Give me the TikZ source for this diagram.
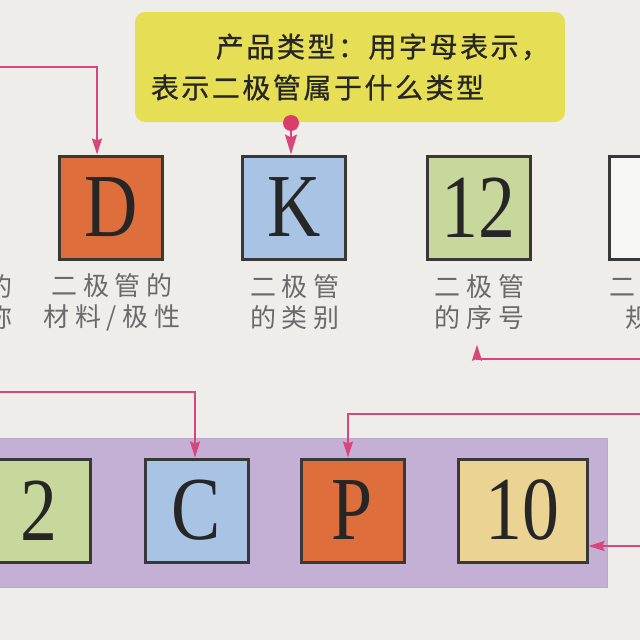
\documentclass[tikz,border=0pt]{standalone}
\usepackage{fontspec}
\usepackage{graphicx}
\setmainfont{Liberation Serif}
\newfontfamily\cjk[LetterSpace=22]{Noto Sans CJK SC}
\newfontfamily\cjkhead[LetterSpace=9,FakeBold=0.8]{Noto Sans CJK SC}
\usetikzlibrary{arrows.meta}

\definecolor{bg}{HTML}{EEEDEA}
\definecolor{callout}{HTML}{E6DE55}
\definecolor{orangebox}{HTML}{DF6E3D}
\definecolor{bluebox}{HTML}{A8C3E3}
\definecolor{greenbox}{HTML}{C8D89C}
\definecolor{tanbox}{HTML}{EBD394}
\definecolor{whitebox}{HTML}{F7F7F5}
\definecolor{panel}{HTML}{C4B0D4}
\definecolor{pinkline}{HTML}{D8477B}
\definecolor{dotred}{HTML}{DC3C6C}
\definecolor{edge}{HTML}{383838}
\definecolor{lblgray}{HTML}{6A6A6A}

\newcommand{\narrow}[1]{\scalebox{0.82}[1]{#1}}

\tikzset{
  codebox/.style={draw=edge, line width=3pt, minimum width=103pt, minimum height=103pt,
    inner sep=0pt, text=black!85, font=\fontsize{90}{90}\selectfont},
  lbl/.style={text=lblgray, align=center, inner sep=0pt, font=\cjk\fontsize{26}{31}\selectfont},
  pointer/.style={draw=pinkline, line width=2pt, -{Stealth[length=16pt,width=10pt,inset=2pt]}},
}

\begin{document}
\begin{tikzpicture}[x=1pt,y=-1pt]
  \useasboundingbox (0,0) rectangle (640,640);
  \clip (0,0) rectangle (640,640);
  \fill[bg] (0,0) rectangle (640,640);

  % callout
  \node[fill=callout, rounded corners=10pt, minimum width=430pt, minimum height=110pt,
    align=left, inner sep=0pt, text=black!85,
    font=\cjkhead\fontsize{28}{41}\selectfont] (type) at (350,67)
    {\hspace*{65pt}产品类型：用字母表示，\\表示二极管属于什么类型};
  \node[circle, fill=dotred, minimum size=16pt, inner sep=0pt] (dot) at (291,123) {};

  % upper row
  \node[codebox, fill=orangebox] (D) at (111,207.5) {\narrow{D}};
  \node[codebox, fill=bluebox] (K) at (294,207.5) {\narrow{K}};
  \node[codebox, fill=greenbox] (seq) at (478.5,207.5) {\narrow{12}};
  \node[codebox, fill=whitebox] (spec) at (661,207.5) {};

  \node[lbl, align=right, anchor=east] (namelbl) at (13,302) {的\\称};
  \node[lbl] (Dlbl) at (112,302) {二极管的\\材料/极性};
  \node[lbl] (Klbl) at (295,302) {二极管\\的类别};
  \node[lbl] (seqlbl) at (479.5,302) {二极管\\的序号};
  \node[lbl] (speclbl) at (670,302) {二极管的\\规格号};

  % lower row
  \draw[draw=panel!85!gray, fill=panel, line width=1pt] (-5,438) rectangle (607,587);
  \node[codebox, fill=greenbox] (two) at (39,510.5) {\narrow{2}};
  \node[codebox, fill=bluebox] (C) at (196.5,510.5) {\narrow{C}};
  \node[codebox, fill=orangebox] (P) at (352.5,510.5) {\narrow{P}};
  \node[codebox, fill=tanbox, minimum width=129pt] (ten) at (522.5,510.5) {\narrow{10}};

  % pointers
  \coordinate (toD) at (-5,67);
  \coordinate (toseq) at (645,359);
  \coordinate (toC) at (-5,392);
  \coordinate (toP) at (645,414);
  \coordinate (toten) at (645,546);

  \draw[pointer] (toD) -| ([xshift=-14pt]D.north);
  \draw[pointer, -{Stealth[length=20pt,width=12pt,inset=3pt]}] (dot.south) -- (dot.south |- K.north);
  \draw[pointer] (toseq) -| ([xshift=-2.5pt,yshift=-15pt]seqlbl.south);
  \draw[pointer] (toC) -| ([xshift=-1.5pt]C.north);
  \draw[pointer] (toP) -| ([xshift=-4.5pt]P.north);
  \draw[pointer] (toten) -- (toten -| ten.east);
\end{tikzpicture}
\end{document}
